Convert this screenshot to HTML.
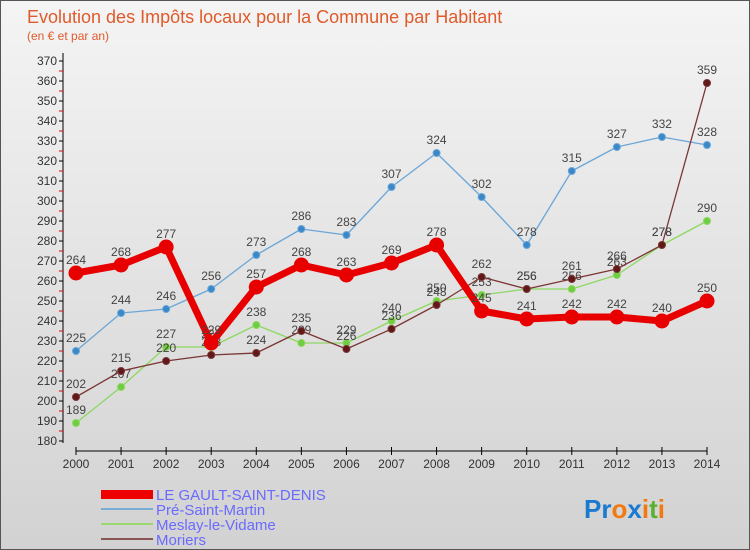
<!DOCTYPE html>
<html><head><meta charset="utf-8"><style>
body{margin:0}
#c{width:750px;height:550px;position:relative;background:linear-gradient(#f4f4f4,#d2d2d2);border:1px solid #555;box-sizing:border-box;font-family:"Liberation Sans",sans-serif;overflow:hidden}
text{font-family:"Liberation Sans",sans-serif}
</style></head><body>
<div id="c">
<svg id="s" width="750" height="550">
<text x="26" y="22" font-size="18" fill="#e05a2a">Evolution des Impôts locaux pour la Commune par Habitant</text>
<text x="26" y="39" font-size="12" fill="#e05a2a">(en € et par an)</text>
<g id="axes"></g><g id="series"></g>
<g>
<rect x="100" y="489" width="52" height="9" fill="#e00"/>
<text x="155" y="499" font-size="15" fill="#6a6aff">LE GAULT-SAINT-DENIS</text>
<rect x="100" y="507" width="52" height="2" fill="#7aaed4"/>
<text x="155" y="514" font-size="15" fill="#6a6aff">Pré-Saint-Martin</text>
<rect x="100" y="522" width="52" height="2" fill="#9cd870"/>
<text x="155" y="529" font-size="15" fill="#6a6aff">Meslay-le-Vidame</text>
<rect x="100" y="537" width="52" height="2" fill="#8a5555"/>
<text x="155" y="544" font-size="15" fill="#6a6aff">Moriers</text>
</g>
<text x="583" y="517" font-size="26" font-weight="bold"><tspan fill="#1a7ad0">Pr</tspan><tspan fill="#f07a10">o</tspan><tspan fill="#1a7ad0">x</tspan><tspan fill="#f07a10">i</tspan><tspan fill="#5ab030">t</tspan><tspan fill="#f07a10">i</tspan></text>
</svg></div>
<script>
const years=[2000,2001,2002,2003,2004,2005,2006,2007,2008,2009,2010,2011,2012,2013,2014];
const gault=[264,268,277,229,257,268,263,269,278,245,241,242,242,240,250];
const pre=[225,244,246,256,273,286,283,307,324,302,278,315,327,332,328];
const meslay=[189,207,227,227,238,229,229,240,250,253,256,256,263,278,290];
const moriers=[202,215,220,223,224,235,226,236,248,262,256,261,266,278,359];
const yTicks=[180,190,200,210,220,230,240,250,260,270,280,290,300,310,320,330,340,350,360,370];
const NS="http://www.w3.org/2000/svg";
function X(i){return 75+i*(706-75)/(years.length-1);}
function Y(v){return 440-(v-180)*2;}
function mk(t,a,p){const e=document.createElementNS(NS,t);for(const k in a)e.setAttribute(k,a[k]);p.appendChild(e);return e;}
const ax=document.getElementById('axes');
let e=mk('line',{x1:62,y1:52,x2:62,y2:442,stroke:'#000','stroke-width':1},ax);


e=mk('line',{x1:75,y1:450,x2:706,y2:450,stroke:'#000','stroke-width':1},ax);


yTicks.forEach(v=>{mk('line',{x1:58,y1:Y(v),x2:62,y2:Y(v),stroke:'#000'},ax);
 if(v<370)mk('line',{x1:58,y1:Y(v+5),x2:62,y2:Y(v+5),stroke:'#e00'},ax);
 const t=mk('text',{x:56,y:Y(v)+4,'font-size':12,fill:'#333','text-anchor':'end'},ax);t.textContent=v;
 
 });
years.forEach((y,i)=>{mk('line',{x1:X(i),y1:446,x2:X(i),y2:454,stroke:'#000'},ax);
 const t=mk('text',{x:X(i),y:467,'font-size':12,fill:'#333','text-anchor':'middle'},ax);t.textContent=y;
 
 });
const sg=document.getElementById('series');
function draw(data,color,w,r,name,dot){
 const g=mk('g',{},sg);
 
 
 mk('polyline',{points:data.map((v,i)=>X(i)+','+Y(v)).join(' '),fill:'none',stroke:color,'stroke-width':w,'stroke-linejoin':'round'},g);
 data.forEach((v,i)=>{const c=mk('circle',{cx:X(i),cy:Y(v),r:r,fill:dot,stroke:color,'stroke-width':1},g);
  
  
  const t=mk('text',{x:X(i),y:Y(v)-9,'font-size':12,fill:'#444','text-anchor':'middle'},g);t.textContent=v;
  
  });
}
draw(pre,'#6aa6d8',1.3,3.5,'pre','#3a88c8');
draw(meslay,'#8cd860',1.3,3.5,'meslay','#70cc40');
draw(moriers,'#7a3535',1.3,3.5,'moriers','#601818');
draw(gault,'#e80000',7,7,'gault','#e80000');
</script>
</body></html>
